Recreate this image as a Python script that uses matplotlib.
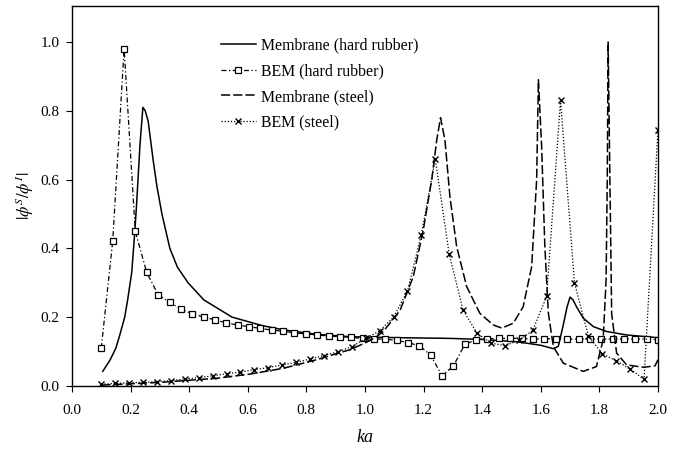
import matplotlib.pyplot as plt

plt.rcParams['font.family'] = 'Liberation Serif'
plt.rcParams['mathtext.fontset'] = 'stix'

# Membrane (hard rubber) - continuous curve
mem_rub_ka = [0.105, 0.13, 0.15, 0.164, 0.18, 0.19, 0.204, 0.212, 0.22, 0.232, 0.242,
              0.25, 0.26, 0.277, 0.29, 0.307, 0.334, 0.36, 0.396, 0.45, 0.546, 0.65,
              0.721, 0.78, 0.835, 0.9, 0.949, 1.05, 1.12, 1.29, 1.40, 1.52, 1.60,
              1.643, 1.66, 1.675, 1.69, 1.70, 1.71, 1.722, 1.745, 1.78, 1.825, 1.893, 2.0]
mem_rub = [0.042, 0.075, 0.11, 0.15, 0.20, 0.25, 0.33, 0.42, 0.52, 0.70, 0.81,
           0.80, 0.77, 0.657, 0.58, 0.50, 0.40, 0.345, 0.30, 0.25, 0.20, 0.175,
           0.163, 0.156, 0.15, 0.146, 0.143, 0.141, 0.14, 0.138, 0.135, 0.128, 0.118,
           0.108, 0.115, 0.17, 0.23, 0.258, 0.25, 0.23, 0.197, 0.172, 0.158, 0.148, 0.14]

# BEM (hard rubber)
bem_rub_ka = [0.100, 0.139, 0.178, 0.216, 0.255, 0.294, 0.333, 0.371, 0.410, 0.449,
              0.488, 0.527, 0.565, 0.604, 0.643, 0.682, 0.720, 0.759, 0.798, 0.837,
              0.876, 0.914, 0.953, 0.992, 1.031, 1.069, 1.108, 1.147, 1.186, 1.224,
              1.263, 1.302, 1.341, 1.380, 1.418, 1.457, 1.496, 1.535, 1.573, 1.612,
              1.651, 1.690, 1.729, 1.767, 1.806, 1.845, 1.884, 1.922, 1.961, 2.000]
bem_rub = [0.11, 0.42, 0.98, 0.45, 0.33, 0.265, 0.243, 0.224, 0.21, 0.20,
           0.192, 0.183, 0.177, 0.172, 0.167, 0.162, 0.159, 0.154, 0.151, 0.148,
           0.145, 0.143, 0.141, 0.138, 0.136, 0.136, 0.132, 0.126, 0.116, 0.09,
           0.029, 0.058, 0.121, 0.134, 0.137, 0.138, 0.138, 0.138, 0.136, 0.137,
           0.137, 0.136, 0.136, 0.136, 0.136, 0.136, 0.136, 0.136, 0.136, 0.134]

# Membrane (steel)
mem_st_ka = [0.10, 0.2, 0.3, 0.38, 0.494, 0.607, 0.721, 0.835, 0.9, 0.949, 1.006, 1.04,
             1.062, 1.085, 1.12, 1.165, 1.199, 1.228, 1.245, 1.258, 1.273, 1.29, 1.313,
             1.347, 1.392, 1.438, 1.467, 1.506, 1.54, 1.569, 1.586, 1.592, 1.603, 1.614,
             1.626, 1.643, 1.677, 1.745, 1.79, 1.813, 1.823, 1.827, 1.830, 1.836, 1.842,
             1.859, 1.893, 1.95, 1.99, 2.0]
mem_st = [0.002, 0.006, 0.010, 0.015, 0.022, 0.034, 0.051, 0.076, 0.093, 0.105, 0.127, 0.143,
          0.158, 0.182, 0.22, 0.318, 0.453, 0.60, 0.715, 0.78, 0.715, 0.55, 0.405,
          0.289, 0.211, 0.177, 0.168, 0.182, 0.23, 0.347, 0.60, 0.89, 0.696, 0.405,
          0.211, 0.114, 0.066, 0.042, 0.056, 0.134, 0.308, 0.60, 1.0, 0.6, 0.21,
          0.095, 0.061, 0.054, 0.058, 0.076]

# BEM (steel)
bem_st_ka = [0.1, 0.1475, 0.195, 0.2425, 0.29, 0.3375, 0.385, 0.4325, 0.48, 0.5275,
             0.575, 0.6225, 0.67, 0.7175, 0.765, 0.8125, 0.86, 0.9075, 0.955, 1.0025,
             1.05, 1.0975, 1.145, 1.1925, 1.24, 1.2875, 1.335, 1.3825, 1.43, 1.4775,
             1.525, 1.5725, 1.62, 1.6675, 1.715, 1.7625, 1.81, 1.8575, 1.905, 1.9525, 2.0]
bem_st = [0.005, 0.007, 0.009, 0.01, 0.012, 0.015, 0.02, 0.024, 0.029, 0.035,
          0.04, 0.047, 0.053, 0.061, 0.068, 0.078, 0.088, 0.099, 0.114, 0.138,
          0.16, 0.20, 0.275, 0.44, 0.66, 0.383, 0.22, 0.153, 0.124, 0.117,
          0.132, 0.161, 0.26, 0.83, 0.30, 0.145, 0.093, 0.073, 0.049, 0.019, 0.744]

fig = plt.figure(figsize=(6.79, 4.55), dpi=100)
ax = fig.add_axes([0.106, 0.152, 0.863, 0.835])

ax.plot(mem_rub_ka, mem_rub, color='black', linewidth=1.1, label='Membrane (hard rubber)')
ax.plot(bem_rub_ka, bem_rub, color='black', linewidth=0.9, linestyle=(0, (4, 2, 1, 2)),
        marker='s', markersize=4.5, markerfacecolor='white', markeredgewidth=0.9,
        label='BEM (hard rubber)')
ax.plot(mem_st_ka, mem_st, color='black', linewidth=1.1, linestyle=(0, (6, 2)),
        label='Membrane (steel)')
ax.plot(bem_st_ka, bem_st, color='black', linewidth=0.9, linestyle=(0, (1, 1.5)),
        marker='x', markersize=4.5, markeredgewidth=1.0, label='BEM (steel)')

ax.set_xlim(0, 2.0)
ax.set_ylim(0, 1.105)
ax.set_xticks([0.0, 0.2, 0.4, 0.6, 0.8, 1.0, 1.2, 1.4, 1.6, 1.8, 2.0])
ax.set_yticks([0.0, 0.2, 0.4, 0.6, 0.8, 1.0])
ax.xaxis.set_major_formatter(plt.FormatStrFormatter('%.1f'))
ax.yaxis.set_major_formatter(plt.FormatStrFormatter('%.1f'))
ax.tick_params(direction='out', length=4, width=0.8, labelsize=11, pad=5)
ax.tick_params(axis='x', pad=9)
for s in ax.spines.values():
    s.set_linewidth(1.0)

ax.set_xlabel('ka', fontsize=13, style='italic', labelpad=9)
ax.set_ylabel(r'$|\phi^S/\phi^I|$', fontsize=12, labelpad=3)

ax.legend(loc='upper left', bbox_to_anchor=(0.23, 0.955), frameon=False, fontsize=11.4,
          handlelength=2.2, labelspacing=0.62, handletextpad=0.35)

plt.savefig('out.png', dpi=100)
